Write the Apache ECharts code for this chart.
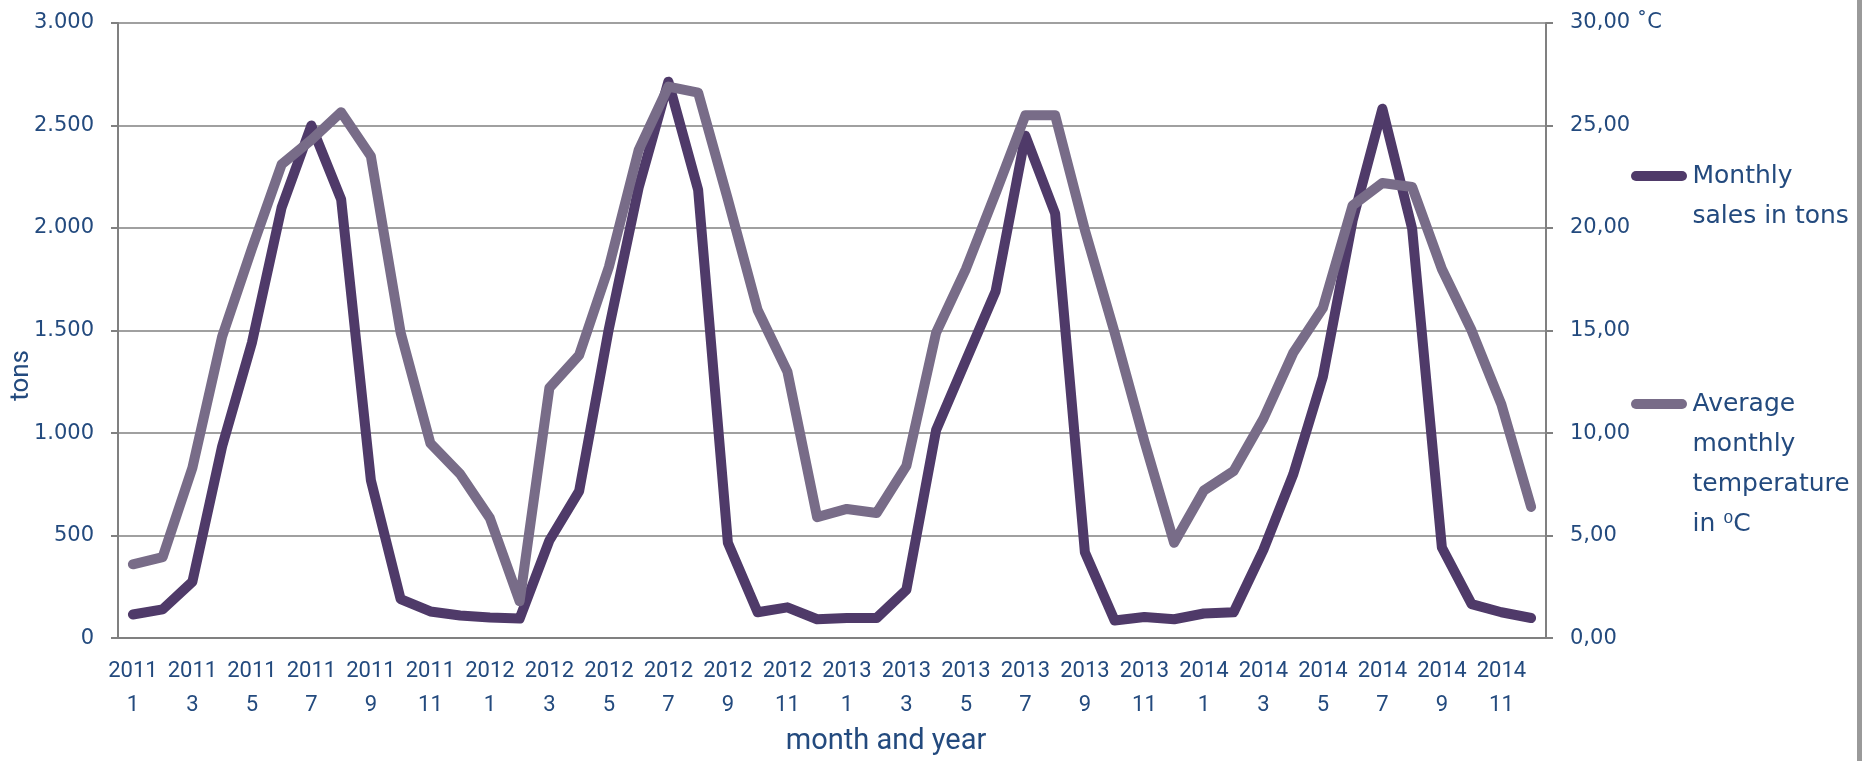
<!DOCTYPE html>
<html>
<head>
<meta charset="utf-8">
<title>Monthly sales and temperature</title>
<script src="https://cdn.jsdelivr.net/npm/echarts@6/dist/echarts.min.js"></script>
<style>
  html, body { margin: 0; padding: 0; background: #fff; }
  #chart { width: 1862px; height: 761px; }
</style>
</head>
<body>
<div id="chart"></div>
<script>
  var months = [
    '2011\n1', '2011\n2', '2011\n3', '2011\n4', '2011\n5', '2011\n6', '2011\n7', '2011\n8', '2011\n9', '2011\n10', '2011\n11', '2011\n12',
    '2012\n1', '2012\n2', '2012\n3', '2012\n4', '2012\n5', '2012\n6', '2012\n7', '2012\n8', '2012\n9', '2012\n10', '2012\n11', '2012\n12',
    '2013\n1', '2013\n2', '2013\n3', '2013\n4', '2013\n5', '2013\n6', '2013\n7', '2013\n8', '2013\n9', '2013\n10', '2013\n11', '2013\n12',
    '2014\n1', '2014\n2', '2014\n3', '2014\n4', '2014\n5', '2014\n6', '2014\n7', '2014\n8', '2014\n9', '2014\n10', '2014\n11', '2014\n12'
  ]
  // monthly sales, tons
  var sales = [
    115, 140, 275, 935, 1440, 2100, 2500, 2140, 770, 190, 130, 110,
    100, 95, 476, 717, 1509, 2197, 2714, 2186, 465, 126, 150, 92,
    98, 98, 235, 1015, 1354, 1692, 2450, 2071, 419, 86, 103, 92,
    120, 126, 430, 797, 1274, 2037, 2582, 1997, 442, 166, 126, 98
  ]
  // average monthly temperature, °C
  var temperature = [
    3.6, 3.95, 8.3, 14.7, 19.0, 23.1, 24.3, 25.65, 23.5, 14.9, 9.5, 8.0,
    5.85, 1.8, 12.2, 13.8, 18.1, 23.8, 26.9, 26.6, 21.4, 16.0, 13.0, 5.9,
    6.3, 6.1, 8.4, 14.9, 18.0, 21.7, 25.5, 25.5, 19.9, 14.9, 9.6, 4.65,
    7.2, 8.15, 10.7, 13.9, 16.1, 21.1, 22.2, 22.0, 18.0, 15.0, 11.4, 6.4
  ]
  var salesName = 'Monthly\nsales in tons'
  var tempName = 'Average\nmonthly\ntemperature\nin \u2070C'

  var textBlue = '#234a7e'
  var gray = '#808080'
  var legendIcon = 'path://M5,0 L51,0 A5,5 0 0 1 51,10 L5,10 A5,5 0 0 1 5,0 Z'

  var chart = echarts.init(document.getElementById('chart'))
  chart.setOption({
    animation: false,
    grid: {
      left: 118,
      right: 316,
      top: 23,
      bottom: 115
    },
    legend: {
      orient: 'vertical',
      left: 1631,
      top: 116,
      padding: 0,
      itemGap: 28,
      itemWidth: 57,
      itemHeight: 10,
      icon: legendIcon,
      data: [salesName, tempName],
      textStyle: {
        color: textBlue,
        fontFamily: 'DejaVu Sans',
        fontSize: 25,
        lineHeight: 40
      },
      // blank lines on top so the first text line sits level with the icon
      formatter: function (name) {
        var n = name.split('\n').length
        return new Array(n).join('\n') + name
      }
    },
    graphic: [
      {
        type: 'text',
        left: 8,
        top: 350,
        rotation: Math.PI / 2,
        style: {
          text: 'tons',
          fill: textBlue,
          font: '26px Roboto'
        }
      },
      {
        type: 'rect',
        right: 0,
        top: 0,
        shape: { width: 5, height: 761 },
        style: { fill: '#9a9a9a' }
      }
    ],
    xAxis: {
      type: 'category',
      data: months,
      boundaryGap: true,
      name: 'month and year',
      nameLocation: 'middle',
      nameGap: 86,
      nameTextStyle: {
        color: textBlue,
        fontFamily: 'Roboto',
        fontSize: 29,
        padding: [0, 0, 0, 108]
      },
      axisLine: { lineStyle: { color: gray, width: 2 } },
      axisTick: {
        interval: 0,
        length: 8,
        lineStyle: { color: gray, width: 2 }
      },
      axisLabel: {
        interval: 1,
        margin: 16,
        color: textBlue,
        fontFamily: 'Roboto',
        fontSize: 22,
        lineHeight: 34
      }
    },
    yAxis: [
      {
        type: 'value',
        min: 0,
        max: 3000,
        interval: 500,
        axisLine: { show: true, lineStyle: { color: gray, width: 2 } },
        axisTick: { show: true, length: 7, lineStyle: { color: gray, width: 2 } },
        splitLine: { lineStyle: { color: gray, width: 1.5 } },
        axisLabel: {
          margin: 24,
          color: textBlue,
          fontFamily: 'DejaVu Sans',
          fontSize: 21,
          formatter: function (v) {
            return v >= 1000 ? Math.floor(v / 1000) + '.' + String(v % 1000).padStart(3, '0') : String(v)
          }
        }
      },
      {
        type: 'value',
        min: 0,
        max: 30,
        interval: 5,
        position: 'right',
        axisLine: { show: true, lineStyle: { color: gray, width: 2 } },
        axisTick: { show: true, length: 7, lineStyle: { color: gray, width: 2 } },
        splitLine: { show: false },
        axisLabel: {
          margin: 24,
          color: textBlue,
          fontFamily: 'DejaVu Sans',
          fontSize: 21,
          formatter: function (v) {
            var s = v.toFixed(2).replace('.', ',')
            return v === 30 ? s + ' \u02daC' : s
          }
        }
      }
    ],
    series: [
      {
        name: salesName,
        type: 'line',
        yAxisIndex: 0,
        data: sales,
        showSymbol: false,
        color: '#4f3a69',
        lineStyle: { width: 10, cap: 'round', join: 'round' }
      },
      {
        name: tempName,
        type: 'line',
        yAxisIndex: 1,
        data: temperature,
        showSymbol: false,
        color: '#786c88',
        lineStyle: { width: 10, cap: 'round', join: 'round' }
      }
    ]
  })
</script>
</body>
</html>
